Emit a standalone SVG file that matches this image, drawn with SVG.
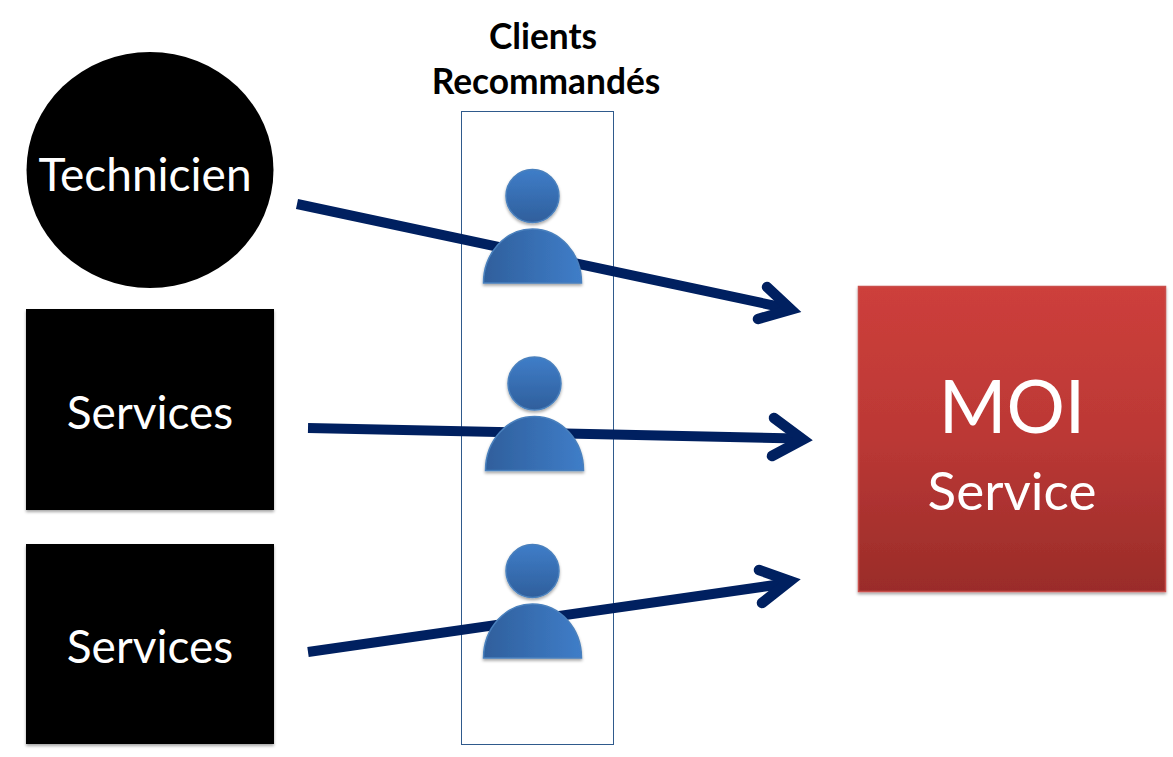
<svg xmlns="http://www.w3.org/2000/svg" width="1173" height="757" viewBox="0 0 1173 757">
<style>
text{font-family:"Lato","Open Sans",sans-serif;text-anchor:middle}
.w{fill:#fff;font-size:46px}
.h{fill:#000;font-size:35.300px;font-weight:700}
.a{fill:none;stroke:#002060;stroke-width:10}
.t{fill:none;stroke:#002060;stroke-width:10.500;stroke-linecap:round;stroke-linejoin:miter;stroke-miterlimit:10}
.s{fill:#000;filter:url(#sh)}
</style>
<defs>
<linearGradient id="r" x1="0" y1="0" x2="0" y2="1"><stop offset="0" stop-color="#cd3f3b"/><stop offset=".5" stop-color="#bb3835"/><stop offset="1" stop-color="#9a2c29"/></linearGradient>
<linearGradient id="hd" x1="0" y1="0" x2="0" y2="1"><stop offset="0" stop-color="#3f7dc8"/><stop offset="1" stop-color="#2f5f9c"/></linearGradient>
<linearGradient id="bd" x1="0" y1="0" x2="1" y2="0"><stop offset="0" stop-color="#2f5f9c"/><stop offset="1" stop-color="#3f7dc8"/></linearGradient>
<filter id="sh" x="-5%" y="-5%" width="110%" height="110%"><feDropShadow dx="0" dy="2" stdDeviation="1.500" flood-color="#000" flood-opacity=".35"/></filter>
<g id="person" filter="url(#sh)"><circle cx="0" cy="0" r="26.500" fill="url(#hd)" stroke="#4a80bd" stroke-width="1.500"/><path d="M-49 87A49 54 0 0 1 49 87Z" fill="url(#bd)" stroke="#4a80bd" stroke-width="1.500"/></g>
</defs>
<rect width="1173" height="757" fill="#fff"/>
<g id="clients-box"><rect x="461.500" y="111.500" width="152" height="633" fill="#fff" stroke="#2f5a8c" stroke-width="1"/></g>
<g id="connectors">
<path class="a" d="M297 204L783 307.500"/><path class="t" d="M758 319L791 309.500L767 287"/>
<path class="a" d="M308 428L797 438.500"/><path class="t" d="M772 456L803 439.500L774 418"/>
<path class="a" d="M308 652L782 584"/><path class="t" d="M762 603L790 581L759 570"/>
</g>
<g id="client-1"><use href="#person" x="532.500" y="196"/></g>
<g id="client-2"><use href="#person" x="534.500" y="383.500"/></g>
<g id="client-3"><use href="#person" x="532.500" y="571"/></g>
<g id="technicien"><ellipse cx="150" cy="170" rx="123.500" ry="118" fill="#000"/><text class="w" x="145" y="191">Technicien</text></g>
<g id="services-1"><rect class="s" x="26" y="309" width="248" height="201"/><text class="w" x="150" y="429">Services</text></g>
<g id="services-2"><rect class="s" x="26" y="544" width="248" height="200"/><text class="w" x="150" y="663">Services</text></g>
<g id="moi"><rect x="858.500" y="286.500" width="307" height="305" fill="url(#r)" stroke="#c9504c" stroke-width="1.500" filter="url(#sh)"/><text class="w" x="1012" y="433" style="font-size:73px">MOI</text><text class="w" x="1012" y="510" style="font-size:53px">Service</text></g>
<g id="title"><text class="h" x="543" y="49">Clients</text><text class="h" x="546" y="94">Recommandés</text></g>
</svg>
